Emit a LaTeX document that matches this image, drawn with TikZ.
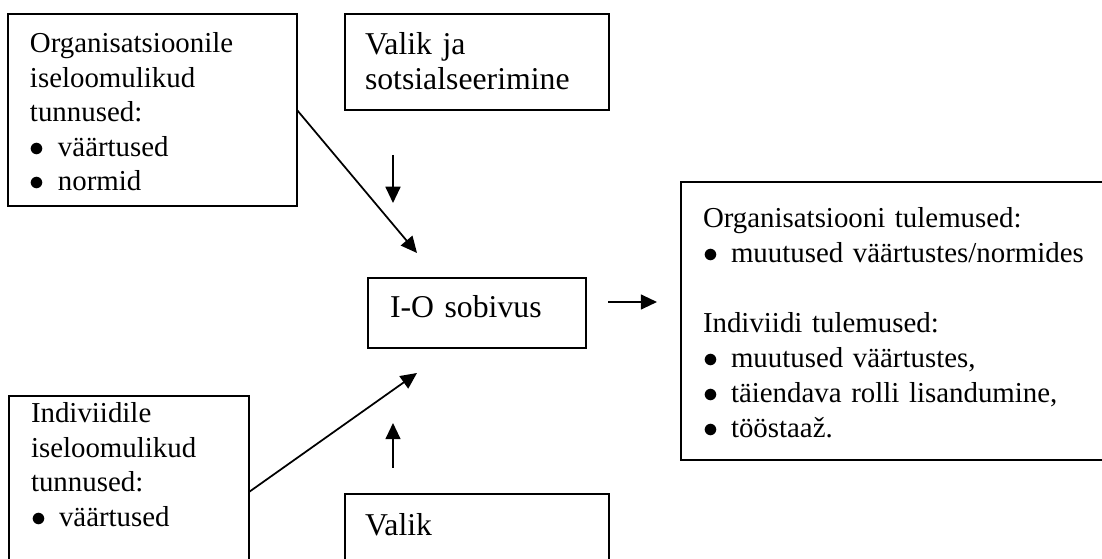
\documentclass[tikz,border=0pt]{standalone}
\usepackage{fontspec}
\setmainfont{Liberation Serif}
\usetikzlibrary{arrows.meta,calc}
\tikzstyle{box} = [rectangle, draw, line width=0.8pt, outer sep=0pt, anchor=base west,
    align=left, inner xsep=8.8pt, inner ysep=0pt, font=\fontsize{11.55}{13.8}\selectfont]
\tikzstyle{bigbox} = [box, font=\fontsize{12.7}{14}\selectfont]
\tikzstyle{arrow} = [-{Triangle[length=6.5pt,width=6pt]}, line width=0.7pt]
\newcommand{\blt}{\makebox[11.2pt][l]{$\bullet$}}

\begin{document}
\begin{tikzpicture}[x=0.4pt,y=-0.4pt]
\useasboundingbox (0,0) rectangle (1102,559);
\clip (0,0) rectangle (1102,559);

\node[box, text width=98pt, text height=15.6pt, text depth=61.2pt] (orgbox) at (8,53)
    {Organisatsioonile\\ iseloomulikud\\ tunnused:\\ \blt väärtused\\ \blt normid};
\node[bigbox, text width=89.6pt, inner xsep=8pt, text height=16.4pt, text depth=22pt] (socbox) at (345,55)
    {Valik ja\\ sotsialseerimine};
\node[bigbox, text width=69.6pt, text height=16pt, text depth=12pt] (fitbox) at (368,318) {I-O sobivus};
\node[box, text width=162pt, text height=18.4pt, text depth=92.8pt, font=\fontsize{11.55}{14}\selectfont] (outbox) at (681,228)
    {Organisatsiooni tulemused:\\ \blt muutused väärtustes/normides\\[14pt]
     Indiviidi tulemused:\\ \blt muutused väärtustes,\\ \blt täiendava rolli lisandumine,\\ \blt tööstaaž.};
\node[box, text width=78.4pt, text height=10.8pt, text depth=70pt] (indbox) at (9,423)
    {Indiviidile\\ iseloomulikud\\ tunnused:\\ \blt väärtused};
\node[bigbox, text width=89.6pt, inner xsep=8pt, text height=16.4pt, text depth=30pt] (selbox) at (345,535) {Valik};

% free ends of the arrows
\coordinate (orgtip) at (417,253);
\coordinate (soctail) at (393,155);
\coordinate (soctip) at (393,203);
\coordinate (indtail) at ($(indbox.north east)+(0,96)$);
\coordinate (indtip) at (417,373);
\coordinate (seltail) at (393,468);
\coordinate (seltip) at (393,423);
\coordinate (outtail) at (608,302);
\coordinate (outtip) at (657,302);

\draw[arrow] (orgbox.east) -- (orgtip);
\draw[arrow] (soctail) -- (soctip);
\draw[arrow] (indtail) -- (indtip);
\draw[arrow] (seltail) -- (seltip);
\draw[arrow] (outtail) -- (outtip);
\end{tikzpicture}
\end{document}
